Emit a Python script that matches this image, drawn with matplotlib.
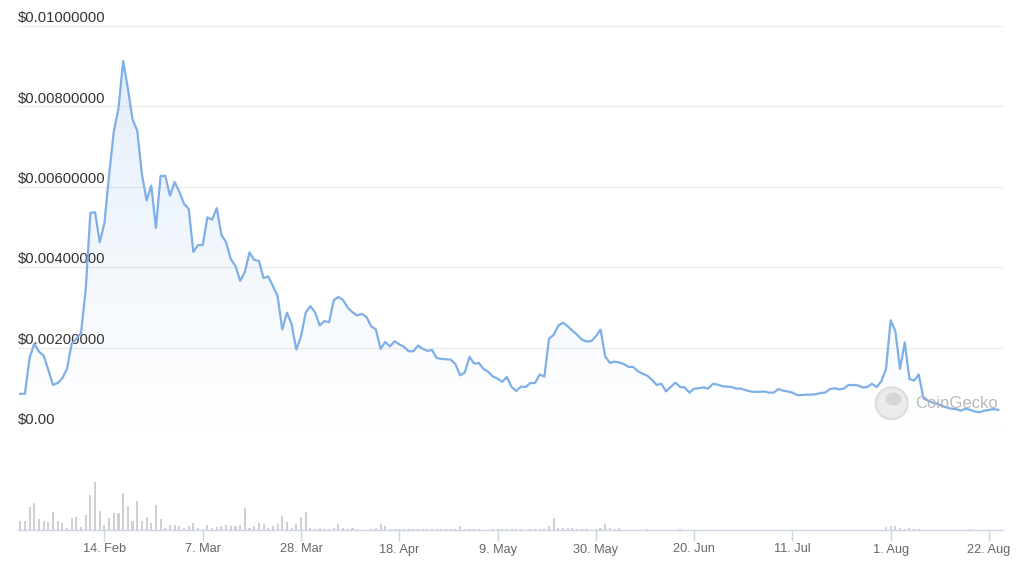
import numpy as np
import pandas as pd
import matplotlib
matplotlib.use("Agg")
import matplotlib.pyplot as plt
import matplotlib.dates as mdates
import matplotlib.transforms as mtransforms
from matplotlib.patches import Ellipse, PathPatch

# ---------------- data ----------------
start_date = "2022-01-27"

prices = [
    0.00085, 0.00085, 0.00174, 0.00210, 0.00190, 0.00180, 0.00145, 0.00107, 0.00112, 0.00124,
    0.00147, 0.00210, 0.00222, 0.00237, 0.00345, 0.00535, 0.00537, 0.00462, 0.00510, 0.00630,
    0.00737, 0.00795, 0.00913, 0.00845, 0.00768, 0.00740, 0.00632, 0.00566, 0.00603, 0.00498,
    0.00627, 0.00627, 0.00578, 0.00612, 0.00588, 0.00558, 0.00545, 0.00438, 0.00455, 0.00455,
    0.00524, 0.00518, 0.00547, 0.00480, 0.00462, 0.00420, 0.00403, 0.00366, 0.00388, 0.00437,
    0.00418, 0.00416, 0.00373, 0.00377, 0.00353, 0.00328, 0.00245, 0.00287, 0.00258, 0.00195,
    0.00228, 0.00287, 0.00303, 0.00288, 0.00255, 0.00266, 0.00263, 0.00318, 0.00326, 0.00318,
    0.00299, 0.00288, 0.00280, 0.00284, 0.00276, 0.00253, 0.00245, 0.00197, 0.00214, 0.00203,
    0.00216, 0.00208, 0.00202, 0.00191, 0.00191, 0.00205, 0.00197, 0.00192, 0.00194, 0.00174,
    0.00172, 0.00171, 0.00170, 0.00159, 0.00131, 0.00138, 0.00177, 0.00160, 0.00162, 0.00147,
    0.00140, 0.00128, 0.00123, 0.00115, 0.00127, 0.00102, 0.00092, 0.00103, 0.00102, 0.00112,
    0.00112, 0.00133, 0.00128, 0.00222, 0.00232, 0.00255, 0.00262, 0.00253, 0.00242, 0.00232,
    0.00220, 0.00215, 0.00216, 0.00228, 0.00245, 0.00178, 0.00162, 0.00165, 0.00163, 0.00159,
    0.00152, 0.00152, 0.00141, 0.00135, 0.00130, 0.00120, 0.00107, 0.00110, 0.00091, 0.00102,
    0.00113, 0.00102, 0.00101, 0.00088, 0.00098, 0.00099, 0.00101, 0.00098, 0.00110, 0.00108,
    0.00104, 0.00103, 0.00102, 0.00098, 0.00098, 0.00094, 0.00091, 0.00090, 0.00090, 0.00091,
    0.00088, 0.00088, 0.00097, 0.00093, 0.00091, 0.00088, 0.00082, 0.00082, 0.00083, 0.00083,
    0.00084, 0.00087, 0.00088, 0.00097, 0.00099, 0.00096, 0.00098, 0.00107, 0.00107, 0.00106,
    0.00101, 0.00102, 0.00110, 0.00102, 0.00116, 0.00147, 0.00268, 0.00241, 0.00147, 0.00213,
    0.00122, 0.00118, 0.00133, 0.00074, 0.00068, 0.00063, 0.00060, 0.00055, 0.00051, 0.00048,
    0.00047, 0.00043, 0.00048, 0.00045, 0.00041, 0.00039, 0.00043, 0.00045, 0.00047, 0.00045,
]

# daily volume (relative units, estimated)
volumes = [
    9, 9, 23, 27, 11, 9, 8, 18, 9, 7,
    2, 12, 13, 3, 15, 35, 48, 19, 5, 12,
    17, 17, 37, 24, 9, 29, 9, 13, 7, 25,
    11, 2, 5, 5, 4, 2, 4, 7, 2, 1,
    5, 2, 3, 4, 5, 4, 4, 5, 22, 2,
    4, 7, 6, 2, 4, 6, 14, 8, 2, 6,
    13, 18, 2, 1, 2, 1, 1, 2, 6, 2,
    1, 2, 1, 0.5, 0.5, 1, 2, 6, 4, 1,
    1, 1.5, 1, 1, 1.5, 1.5, 1, 1, 1, 1,
    1, 1, 1, 1, 4, 1, 1, 1, 1, 0.5,
    0.5, 1, 1, 1, 1.5, 1, 1, 1, 0.5, 1,
    1, 1, 1, 4, 12, 2, 2, 2, 2, 1,
    1, 1, 0.5, 1, 2, 6, 2, 1, 2, 0.5,
    0.5, 0.5, 0.5, 0.5, 1, 0.3, 0.3, 0.3, 0.3, 0.3,
    0.3, 1, 0.2, 0.2, 0.2, 0.2, 0.2, 0.2, 0.2, 0.2,
    0.2, 0.2, 0.2, 0.2, 0.2, 0.2, 0.2, 0.2, 0.2, 0.2,
    0.2, 0.2, 0.2, 0.2, 0.2, 0.2, 0.2, 0.2, 0.2, 0.2,
    0.2, 0.2, 0.2, 0.2, 0.2, 0.2, 0.2, 0.2, 0.2, 0.2,
    0.2, 0.2, 0.2, 0.2, 0.2, 3, 4, 4, 2, 1,
    2, 1, 1, 0.3, 0.3, 0.3, 0.3, 0.3, 0.3, 0.3,
    0.3, 0.3, 0.3, 1.5, 0.3, 0.3, 0.3, 0.3, 0.3, 0.3,
]

y_ticks = [0.0, 0.002, 0.004, 0.006, 0.008, 0.010]
y_labels = ["$0.00", "$0.00200000", "$0.00400000", "$0.00600000", "$0.00800000", "$0.01000000"]

x_tick_dates = ["2022-02-14", "2022-03-07", "2022-03-28", "2022-04-18", "2022-05-09",
                "2022-05-30", "2022-06-20", "2022-07-11", "2022-08-01", "2022-08-22"]
x_tick_labels = ["14. Feb", "7. Mar", "28. Mar", "18. Apr", "9. May",
                 "30. May", "20. Jun", "11. Jul", "1. Aug", "22. Aug"]

# ---------------- styling ----------------
W, H = 1024, 566
DPI = 100
LINE_COLOR = "#7fafe7"
GRID_COLOR = "#ededed"
AXIS_COLOR = "#ccd6eb"
FONT = ["Liberation Sans", "DejaVu Sans"]

plt.rcParams["font.family"] = FONT

dates = pd.date_range(start_date, periods=len(prices), freq="D")
x = mdates.date2num(dates)
xv = mdates.date2num(pd.date_range(start_date, periods=len(volumes), freq="D"))

fig = plt.figure(figsize=(W / DPI, H / DPI), dpi=DPI)
fig.patch.set_facecolor("white")

def px_rect(left, top, right, bottom):
    return [left / W, 1 - bottom / H, (right - left) / W, (bottom - top) / H]

xmin = x[0] - 0.47
xmax = x[0] + 210.0

# price axes
ax = fig.add_axes(px_rect(18, 26, 1003, 428))
ax.set_xlim(xmin, xmax)
ax.set_ylim(0, 0.010)
ax.axis("off")

for yt in y_ticks:
    ax.axhline(yt, color=GRID_COLOR, lw=1.0, zorder=0)

for yt, lab in zip(y_ticks, y_labels):
    ax.annotate(lab, xy=(0, yt), xycoords=("axes fraction", "data"),
                xytext=(0, 2.7), textcoords="offset points",
                ha="left", va="baseline", fontsize=10.6, color="#333333",
                annotation_clip=False)

# gradient fill under the line
poly = ax.fill_between(x, prices, 0, color="none", lw=0)
path = poly.get_paths()[0]
patch = PathPatch(path, transform=ax.transData, facecolor="none", edgecolor="none")
ax.add_patch(patch)
rgb = np.array(matplotlib.colors.to_rgb(LINE_COLOR))
n = 256
alpha = np.linspace(0.0, 0.22, n)[:, None]
grad = np.zeros((n, 1, 4))
grad[..., :3] = rgb
grad[..., 3] = alpha
img = ax.imshow(grad, extent=[xmin, xmax, 0, 0.0095], origin="lower",
                aspect="auto", zorder=1, interpolation="bilinear")
img.set_clip_path(patch)
ax.set_xlim(xmin, xmax)
ax.set_ylim(0, 0.010)

ax.plot(x, prices, color=LINE_COLOR, lw=1.6, zorder=3, solid_joinstyle="round")

# volume axes
axv = fig.add_axes(px_rect(18, 440, 1003, 530))
axv.set_xlim(xmin, xmax)
axv.set_ylim(0, max(volumes) * 90 / 48)
axv.bar(xv, volumes, width=0.45, color="#d0d0d0", zorder=1)
for s in ["left", "right", "top"]:
    axv.spines[s].set_visible(False)
axv.spines["bottom"].set_color(AXIS_COLOR)
axv.spines["bottom"].set_linewidth(1.0)
axv.spines["bottom"].set_zorder(3)
axv.set_yticks([])
tick_x = mdates.date2num(pd.to_datetime(x_tick_dates))
axv.set_xticks(tick_x)
axv.tick_params(axis="x", length=8.0, width=1.0, color=AXIS_COLOR, labelbottom=False)
axv.patch.set_alpha(0)

trans = mtransforms.blended_transform_factory(axv.transData, fig.transFigure)
for tx, lab in zip(tick_x, x_tick_labels):
    fig.text(tx, 1 - 552.5 / H, lab, transform=trans, ha="center", va="baseline",
             fontsize=9.2, color="#666666")

# CoinGecko watermark
circ = Ellipse((891.7 / W, 1 - 403.3 / H), 32 / W, 32 / H, transform=fig.transFigure,
               facecolor="#e9e9e9", edgecolor="#dadada", lw=1.5, zorder=5, alpha=0.9)
fig.patches.append(circ)
head = Ellipse((893.5 / W, 1 - 399.0 / H), 16 / W, 13 / H, transform=fig.transFigure,
               facecolor="#d4d4d4", edgecolor="none", zorder=6, alpha=0.9)
fig.patches.append(head)
fig.text(915 / W, 1 - 407.5 / H, "CoinGecko", fontsize=12, color="#b5b5b5",
         ha="left", va="baseline", zorder=6, alpha=0.95)

fig.savefig("out.png", dpi=DPI, facecolor="white")
